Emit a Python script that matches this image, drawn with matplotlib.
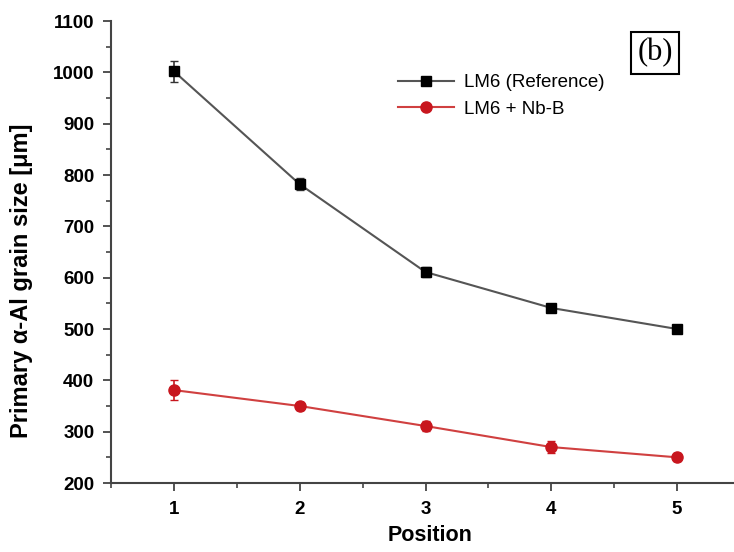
import matplotlib
matplotlib.use('Agg')
import matplotlib.pyplot as plt
from matplotlib.ticker import MultipleLocator
from matplotlib.lines import Line2D

# data
position = [1, 2, 3, 4, 5]
ref_size = [1002, 782, 611, 541, 500]
ref_err = [20, 12, 10, 8, 6]
nbb_size = [381, 350, 311, 270, 250]
nbb_err = [20, 8, 9, 11, 8]
labels = ['LM6 (Reference)', 'LM6 + Nb-B']

plt.rcParams['font.family'] = ['Liberation Sans', 'DejaVu Sans']

fig = plt.figure(figsize=(7.34, 5.52), dpi=100)
ax = fig.add_axes([111/734, 69/552, 629/734, 462/552])

ax.errorbar(position, ref_size, yerr=ref_err, color='#555555', lw=1.5,
            marker='s', ms=7, mfc='black', mec='black', ecolor='#333333',
            elinewidth=1.2, capsize=3)
ax.errorbar(position, nbb_size, yerr=nbb_err, color='#d04040', lw=1.5,
            marker='o', ms=8, mfc='#c8161e', mec='#c8161e', ecolor='#c8161e',
            elinewidth=1.2, capsize=3)

ax.set_xlim(0.5, 5.5)
ax.set_ylim(200, 1100)
ax.xaxis.set_major_locator(MultipleLocator(1))
ax.xaxis.set_minor_locator(MultipleLocator(0.5))
ax.yaxis.set_major_locator(MultipleLocator(100))
ax.yaxis.set_minor_locator(MultipleLocator(50))

for s in ['top', 'right']:
    ax.spines[s].set_visible(False)
for s in ['left', 'bottom']:
    ax.spines[s].set_color('#444444')
    ax.spines[s].set_linewidth(1.5)

ax.tick_params(which='major', direction='out', length=6, width=1.3, color='#444444',
               labelsize=13.5)
ax.tick_params(axis='y', which='major', pad=6)
ax.tick_params(axis='x', which='major', pad=7)
ax.tick_params(which='minor', direction='out', length=3.5, width=1.2, color='#444444')
for t in ax.get_xticklabels() + ax.get_yticklabels():
    t.set_fontweight('bold')

ax.set_xlabel('Position', fontsize=15.5, fontweight='bold')
ax.xaxis.set_label_coords(0.507, -0.09)
ax.set_ylabel('Primary α-Al grain size [μm]', fontsize=17, fontweight='bold')
ax.yaxis.set_label_coords(-0.124, 0.437)

handles = [
    Line2D([], [], color='#555555', lw=1.5, marker='s', ms=7, mfc='black', mec='black'),
    Line2D([], [], color='#d04040', lw=1.5, marker='o', ms=8, mfc='#c8161e', mec='#c8161e'),
]
ax.legend(handles, labels, loc='upper left', bbox_to_anchor=(398/734, 1 - 74/552),
          bbox_transform=fig.transFigure, frameon=False, fontsize=13.5,
          handlelength=3.0, handletextpad=0.5, labelspacing=0.5,
          borderpad=0, borderaxespad=0)

fig.text(655/734, 1 - 53/552, '(b)', family='Liberation Serif', fontsize=22,
         ha='center', va='center',
         bbox=dict(boxstyle='square,pad=0.2', fc='white', ec='black', lw=1.5))

fig.savefig('out.png', dpi=100)
